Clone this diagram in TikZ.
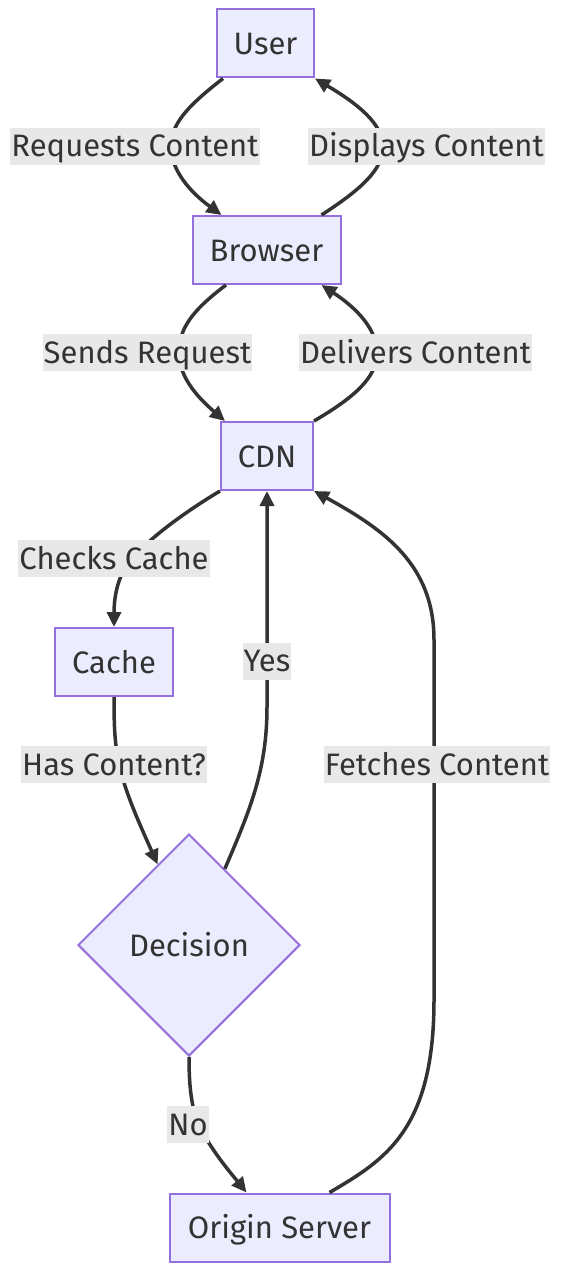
\documentclass[tikz,border=0pt]{standalone}
\usepackage{fontspec}
\setmainfont{Fira Sans}
\usetikzlibrary{arrows.meta,shapes.geometric,calc}
\definecolor{nodefill}{HTML}{ECECFF}
\definecolor{nodeline}{HTML}{9370DB}
\definecolor{edgecol}{HTML}{333333}
\definecolor{lblbg}{HTML}{E8E8E8}
\definecolor{txt}{HTML}{333333}
\begin{document}
\begin{tikzpicture}[x=1pt,y=-1pt,
  font=\fontsize{31}{37}\selectfont,
  box/.style={draw=nodeline, fill=nodefill, line width=2pt, minimum height=68pt, inner sep=0pt, text=txt, text height=22pt, text depth=0pt},
  dec/.style={diamond, draw=nodeline, fill=nodefill, line width=2pt, minimum width=222pt, minimum height=222pt, inner sep=0pt, aspect=1, text=txt, text height=22pt, text depth=0pt},
  lbl/.style={fill=lblbg, inner xsep=1pt, inner ysep=0pt, text height=29pt, text depth=8pt, text=txt},
  conn/.style={draw=edgecol, line width=3.5pt, -{Triangle[length=15pt,width=14pt]}}]
\fill[white] (0,0) rectangle (586,1279);
\useasboundingbox (0,0) rectangle (586,1279);
% nodes
\node[box, minimum width=97pt] (user) at (265.5,43.5) {User};
\node[box, minimum width=148pt] (browser) at (266.5,250) {Browser};
\node[box, minimum width=92pt] (cdn) at (267,456) {CDN};
\node[box, minimum width=118pt] (cache) at (114,662) {Cache};
\node[dec] (decision) at (189,945) {Decision};
\node[box, minimum width=220pt] (origin) at (279.5,1227.5) {Origin Server};
% connectors
\draw[conn] ([xshift=7pt]user.south west) .. controls (185,108) and (171,125) .. (171,147)
  .. controls (171,170) and (190,192) .. ([xshift=30pt]browser.north west);
\draw[conn] ([xshift=-20pt]browser.north east) .. controls (360,190) and (383,170) .. (383,147)
  .. controls (383,124) and (358,104) .. (user.south east);
\draw[conn] ([xshift=34.5pt]browser.south west) .. controls (190,312) and (179,330) .. (179,353)
  .. controls (179,376) and (196,396) .. ([xshift=5pt]cdn.north west);
\draw[conn] (cdn.north east) .. controls (355,397) and (377,377) .. (377,353)
  .. controls (377,330) and (358,309) .. ([xshift=-20pt]browser.south east);
\draw[conn] (cdn.south west) .. controls (180,515) and (140,545) .. (125,568)
  .. controls (115,585) and (114,605) .. (cache.north);
\draw[conn] (cache.south) .. controls (114,730) and (115,745) .. (119,763)
  .. controls (124,790) and (140,825) .. ($(decision.west)!0.72!(decision.north)$);
\draw[conn] ($(decision.north)!0.32!(decision.east)$) .. controls (250,810) and (267,770) .. (267,707)
  -- (cdn.south);
\draw[conn] ([xshift=-61pt]origin.north east) .. controls (385,1160) and (434,1130) .. (434,1000)
  -- (434,640) .. controls (434,565) and (385,530) .. (cdn.south east);
\draw[conn] (decision.south) .. controls (189,1090) and (192,1110) .. (200,1128)
  .. controls (215,1155) and (230,1172) .. ([xshift=78pt]origin.north west);
% labels
\node[lbl] (l1) at (135,146.5) {Requests Content};
\node[lbl] (l2) at (426.5,146.5) {Displays Content};
\node[lbl] (l3) at (147.5,352.5) {Sends Request};
\node[lbl] (l4) at (415.5,352.5) {Delivers Content};
\node[lbl] (l5) at (114,558.5) {Checks Cache};
\node[lbl] (l6) at (267,661) {Yes};
\node[lbl] (l7) at (114,764.5) {Has Content?};
\node[lbl] (l8) at (437,764.5) {Fetches Content};
\node[lbl] (l9) at (188,1124.5) {No};
\end{tikzpicture}
\end{document}
